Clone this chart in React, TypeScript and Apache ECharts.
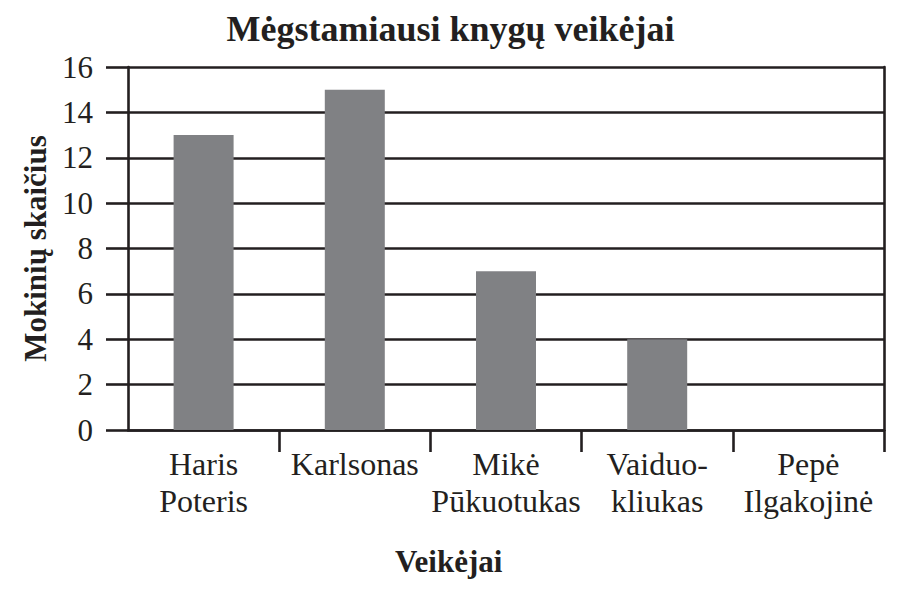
import React, { useEffect, useRef } from "react";
import * as echarts from "echarts";

const titleText = "Mėgstamiausi knygų veikėjai";
const yAxisName = "Mokinių skaičius";
const xAxisName = "Veikėjai";
const categories = ["Haris\nPoteris", "Karlsonas", "Mikė\nPūkuotukas", "Vaiduo-\nkliukas", "Pepė\nIlgakojinė"];
const values = [13, 15, 7, 4, 0];
const boundaryTicks = [1, 2, 3, 4, 5];

const INK = "#231f20";
const BAR = "#808184";
const FONT = "'Liberation Serif', 'Times New Roman', serif";
const LW = 2.6;

export default function App() {
  const ref = useRef<HTMLDivElement>(null);
  useEffect(() => {
    if (!ref.current) return;
    const chart = echarts.init(ref.current, undefined, { renderer: "svg" });
    chart.setOption({
      animation: false,
      backgroundColor: "#ffffff",
      textStyle: { fontFamily: FONT, color: INK },
      title: [
        {
          text: titleText,
          left: "center",
          top: 6,
          textStyle: { fontFamily: FONT, fontSize: 36, fontWeight: "bold", color: INK },
        },
        {
          text: xAxisName,
          left: 390,
          top: 541,
          textStyle: { fontFamily: FONT, fontSize: 31, fontWeight: "bold", color: INK },
        },
      ],
      grid: { left: 128, right: 17, top: 67, height: 363, containLabel: false },
      xAxis: [
        {
          type: "category",
          data: categories,
          position: "bottom",
          boundaryGap: true,
          axisLine: { show: true, lineStyle: { color: INK, width: LW } },
          axisTick: { show: false },
          axisLabel: {
            fontFamily: FONT,
            fontSize: 32,
            lineHeight: 37,
            color: INK,
            margin: 15,
            interval: 0,
          },
          splitLine: { show: false },
        },
        {
          type: "value",
          min: 0,
          max: 5,
          position: "bottom",
          axisLine: { show: false },
          axisTick: {
            show: true,
            customValues: boundaryTicks,
            length: 22,
            lineStyle: { color: INK, width: LW },
          },
          axisLabel: { show: false },
          splitLine: { show: false },
        },
      ],
      yAxis: [
        {
          type: "value",
          min: 0,
          max: 16,
          interval: 2,
          position: "left",
          name: yAxisName,
          nameLocation: "middle",
          nameRotate: 90,
          nameGap: 76,
          nameTextStyle: { fontFamily: FONT, fontSize: 31, fontWeight: "bold", color: INK },
          axisLine: { show: true, lineStyle: { color: INK, width: LW } },
          axisTick: { show: true, length: 22, lineStyle: { color: INK, width: LW } },
          axisLabel: { fontFamily: FONT, fontSize: 31, color: INK, margin: 35 },
          splitLine: { show: true, lineStyle: { color: INK, width: LW } },
        },
        {
          type: "value",
          min: 0,
          max: 16,
          interval: 2,
          position: "right",
          axisLine: { show: true, lineStyle: { color: INK, width: LW } },
          axisTick: { show: false },
          axisLabel: { show: false },
          splitLine: { show: false },
        },
      ],
      series: [
        {
          type: "bar",
          xAxisIndex: 0,
          yAxisIndex: 0,
          data: values,
          barWidth: 60,
          itemStyle: { color: BAR },
        },
      ],
    });
    return () => chart.dispose();
  }, []);
  return <div ref={ref} style={{ width: 901, height: 602, position: "absolute", left: 0, top: 0 }} />;
}
